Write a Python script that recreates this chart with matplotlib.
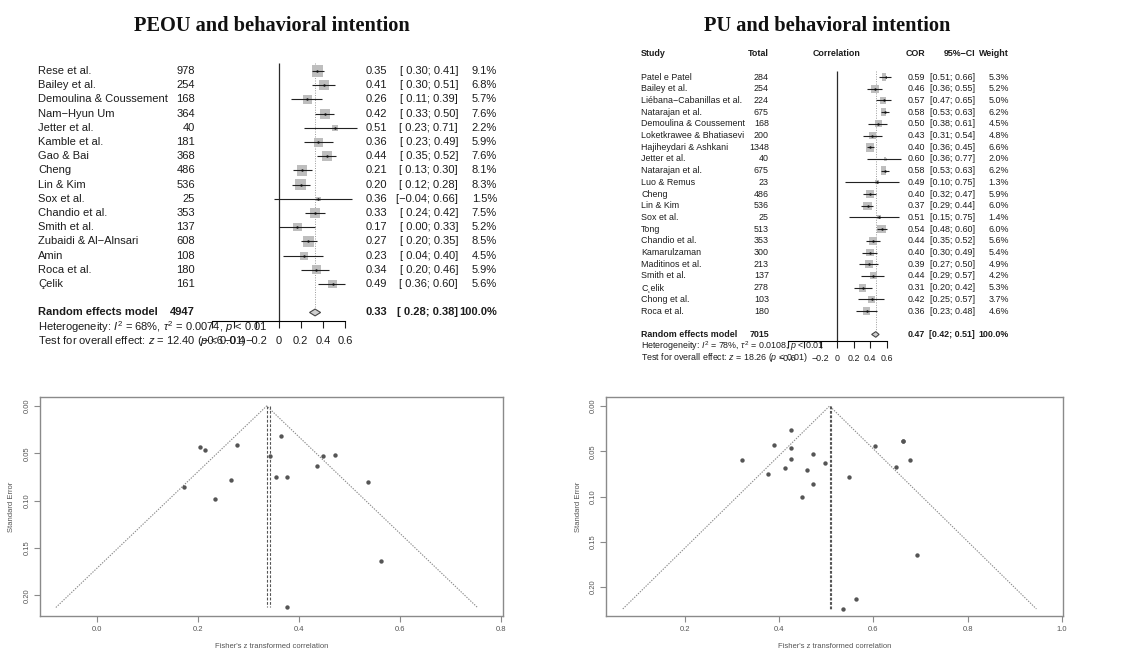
import numpy as np
import matplotlib.pyplot as plt
from matplotlib.transforms import blended_transform_factory

plt.rcParams['font.family'] = ['Liberation Sans', 'DejaVu Sans']
plt.rcParams['mathtext.fontset'] = 'custom'
plt.rcParams['mathtext.rm'] = 'Liberation Sans'
plt.rcParams['mathtext.it'] = 'Liberation Sans:italic'

W, H = 1128, 653

# ---- PEOU and behavioral intention (forest) ----
peou_study = ['Rese et al.', 'Bailey et al.', 'Demoulina & Coussement', 'Nam\u2212Hyun Um',
              'Jetter et al.', 'Kamble et al.', 'Gao & Bai', 'Cheng', 'Lin & Kim', 'Sox et al.',
              'Chandio et al.', 'Smith et al.', 'Zubaidi & Al\u2212Alnsari', 'Amin', 'Roca et al.',
              '\u00c7elik']
peou_total = [978, 254, 168, 364, 40, 181, 368, 486, 536, 25, 353, 137, 608, 108, 180, 161]
peou_cor = [0.35, 0.41, 0.26, 0.42, 0.51, 0.36, 0.44, 0.21, 0.20, 0.36, 0.33, 0.17, 0.27, 0.23, 0.34, 0.49]
peou_lo = [0.30, 0.30, 0.11, 0.33, 0.23, 0.23, 0.35, 0.13, 0.12, -0.04, 0.24, 0.00, 0.20, 0.04, 0.20, 0.36]
peou_hi = [0.41, 0.51, 0.39, 0.50, 0.71, 0.49, 0.52, 0.30, 0.28, 0.66, 0.42, 0.33, 0.35, 0.40, 0.46, 0.60]
peou_weight = [9.1, 6.8, 5.7, 7.6, 2.2, 5.9, 7.6, 8.1, 8.3, 1.5, 7.5, 5.2, 8.5, 4.5, 5.9, 5.6]
peou_random = [0.33, 0.28, 0.38]
peou_n = 4947
peou_het = r'Heterogeneity: $I^2$ = 68%, $\tau^2$ = 0.0074, $p$ < 0.01'
peou_test = r'Test for overall effect: $z$ = 12.40 ($p$ < 0.01)'

# ---- PU and behavioral intention (forest) ----
pu_study = ['Patel e Patel', 'Bailey et al.', 'Li\u00e9bana\u2212Cabanillas et al.', 'Natarajan et al.',
            'Demoulina & Coussement', 'Loketkrawee & Bhatiasevi', 'Hajiheydari & Ashkani',
            'Jetter et al.', 'Natarajan et al.', 'Luo & Remus', 'Cheng', 'Lin & Kim', 'Sox et al.',
            'Tong', 'Chandio et al.', 'Kamarulzaman', 'Maditinos et al.', 'Smith et al.',
            'C\u00b8elik', 'Chong et al.', 'Roca et al.']
pu_total = [284, 254, 224, 675, 168, 200, 1348, 40, 675, 23, 486, 536, 25, 513, 353, 300, 213, 137, 278, 103, 180]
pu_cor = [0.59, 0.46, 0.57, 0.58, 0.50, 0.43, 0.40, 0.60, 0.58, 0.49, 0.40, 0.37, 0.51, 0.54,
          0.44, 0.40, 0.39, 0.44, 0.31, 0.42, 0.36]
pu_lo = [0.51, 0.36, 0.47, 0.53, 0.38, 0.31, 0.36, 0.36, 0.53, 0.10, 0.32, 0.29, 0.15, 0.48,
         0.35, 0.30, 0.27, 0.29, 0.20, 0.25, 0.23]
pu_hi = [0.66, 0.55, 0.65, 0.63, 0.61, 0.54, 0.45, 0.77, 0.63, 0.75, 0.47, 0.44, 0.75, 0.60,
         0.52, 0.49, 0.50, 0.57, 0.42, 0.57, 0.48]
pu_weight = [5.3, 5.2, 5.0, 6.2, 4.5, 4.8, 6.6, 2.0, 6.2, 1.3, 5.9, 6.0, 1.4, 6.0, 5.6, 5.4,
             4.9, 4.2, 5.3, 3.7, 4.6]
pu_random = [0.47, 0.42, 0.51]
pu_n = 7015
pu_het = r'Heterogeneity: $I^2$ = 78%, $\tau^2$ = 0.0108, $p$ < 0.01'
pu_test = r'Test for overall effect: $z$ = 18.26 ($p$ < 0.01)'

forest_ticks = [-0.6, -0.4, -0.2, 0, 0.2, 0.4, 0.6]
peou_ticklabels = ['\u22120.6', '\u22120.4', '\u22120.2', '0', '0.2', '0.4', '0.6']
pu_ticklabels = ['\u22120.6', '', '\u22120.2', '0', '0.2', '0.4', '0.6']

# ---- funnel plots (Fisher's z, standard error) ----
peou_z = [0.365, 0.436, 0.266, 0.448, 0.563, 0.377, 0.472, 0.213, 0.203, 0.377, 0.343,
          0.172, 0.277, 0.234, 0.354, 0.536]
peou_se = [0.032, 0.063, 0.078, 0.053, 0.164, 0.075, 0.052, 0.046, 0.043, 0.213, 0.053,
           0.086, 0.041, 0.098, 0.075, 0.080]
peou_common_z, peou_random_z = 0.336, 0.342

pu_z = [0.678, 0.497, 0.648, 0.663, 0.549, 0.460, 0.424, 0.693, 0.663, 0.536, 0.424, 0.388,
        0.563, 0.604, 0.472, 0.424, 0.412, 0.472, 0.321, 0.448, 0.377]
pu_se = [0.060, 0.063, 0.067, 0.039, 0.078, 0.071, 0.027, 0.164, 0.039, 0.224, 0.046, 0.043,
         0.213, 0.044, 0.053, 0.058, 0.069, 0.086, 0.060, 0.100, 0.075]
pu_common_z, pu_random_z = 0.507, 0.510

peou_fticks_x = [0.0, 0.2, 0.4, 0.6, 0.8]
pu_fticks_x = [0.2, 0.4, 0.6, 0.8, 1.0]
fticks_y = [0.00, 0.05, 0.10, 0.15, 0.20]

fig = plt.figure(figsize=(W / 100, H / 100), dpi=100)
txt = '#1c1c1c'


def fmt_ci(lo, hi, pad):
    s = f'{lo:.2f}'.replace('-', '\u2212')
    if pad and lo >= 0:
        s = ' ' + s
    return f'[{s}; {hi:.2f}]'


def forest(box, ybot, cols, study, total, cor, lo, hi, weight, rnd, n_all, het, test,
           fs, sqk, ticklabels, pad_ci, tickpad, header=False):
    x0, x1, top, bottom = box
    ax = fig.add_axes([x0 / W, 1 - bottom / H, (x1 - x0) / W, (bottom - top) / H])
    ax.set_xlim(-0.6, 0.6)
    ax.set_ylim(ybot, 0)
    n = len(study)
    rows = np.arange(1, n + 1)
    rr = n + 2
    lo_a, hi_a = np.array(lo), np.array(hi)

    ax.vlines(0, 0.45, ybot, color='#2a2a2a', lw=0.9)
    ax.vlines(rnd[0], 0.45, rr - 0.3, color='#9a9a9a', lw=0.7, linestyles=(0, (1, 1.5)))
    ax.scatter(cor, rows, marker='s', s=sqk * np.array(weight), color='#bebebe', lw=0, zorder=2)
    ax.hlines(rows, lo_a, hi_a, color='#222222', lw=0.8, zorder=3, clip_on=False)
    ax.scatter(cor, rows, marker='o', s=3, color='#111111', lw=0, zorder=4)
    dh = 0.24
    ax.fill([rnd[1], rnd[0], rnd[2], rnd[0]], [rr, rr - dh, rr, rr + dh],
            facecolor='#cfcfcf', edgecolor='#444444', lw=0.8, zorder=3)

    for s in ['top', 'left', 'right']:
        ax.spines[s].set_visible(False)
    ax.spines['bottom'].set_linewidth(0.8)
    ax.set_yticks([])
    ax.set_xticks(forest_ticks)
    ax.set_xticklabels(ticklabels)
    ax.tick_params(axis='x', length=5, width=0.8, pad=tickpad, labelsize=fs, colors=txt)
    ax.patch.set_visible(False)

    tr = blended_transform_factory(fig.transFigure, ax.transData)
    cname, ctot, ccor, cci, cw = [c / W for c in cols]
    kw = dict(transform=tr, fontsize=fs, color=txt, va='center')
    for i in range(n):
        y = rows[i]
        ax.text(cname, y, study[i], ha='left', **kw)
        ax.text(ctot, y, str(total[i]), ha='right', **kw)
        ax.text(ccor, y, f'{cor[i]:.2f}', ha='right', **kw)
        ax.text(cci, y, fmt_ci(lo[i], hi[i], pad_ci), ha='right', **kw)
        ax.text(cw, y, f'{weight[i]:.1f}%', ha='right', **kw)
    ax.text(cname, rr, 'Random effects model', ha='left', weight='bold', **kw)
    ax.text(ctot, rr, str(n_all), ha='right', weight='bold', **kw)
    ax.text(ccor, rr, f'{rnd[0]:.2f}', ha='right', weight='bold', **kw)
    ax.text(cci, rr, fmt_ci(rnd[1], rnd[2], pad_ci), ha='right', weight='bold', **kw)
    ax.text(cw, rr, '100.0%', ha='right', weight='bold', **kw)
    ax.text(cname, rr + 1, het, ha='left', **kw)
    ax.text(cname, rr + 2, test, ha='left', **kw)
    if header:
        hk = dict(kw, weight='bold')
        ax.text(cname, -1, 'Study', ha='left', **hk)
        ax.text(ctot, -1, 'Total', ha='right', **hk)
        ax.text(0, -1, 'Correlation', ha='center', transform=ax.transData,
                fontsize=fs, color=txt, va='center', weight='bold')
        ax.text(ccor, -1, 'COR', ha='right', **hk)
        ax.text(cci, -1, '95%\u2212CI', ha='right', **hk)
        ax.text(cw, -1, 'Weight', ha='right', **hk)
    return ax


forest((212, 345, 56.8, 321), 18.6, (38, 195, 387, 458, 497),
       peou_study, peou_total, peou_cor, peou_lo, peou_hi, peou_weight, peou_random, peou_n,
       peou_het, peou_test, fs=8.0, sqk=7.1, ticklabels=peou_ticklabels, pad_ci=True, tickpad=6)

forest((787.5, 886.5, 65.3, 341), 23.56, (641, 769, 925, 975, 1009),
       pu_study, pu_total, pu_cor, pu_lo, pu_hi, pu_weight, pu_random, pu_n,
       pu_het, pu_test, fs=6.4, sqk=6.0, ticklabels=pu_ticklabels, pad_ci=False, tickpad=4,
       header=True)

fig.text(272 / W, 1 - 31 / H, 'PEOU and behavioral intention', family='Liberation Serif',
         weight='bold', fontsize=14.7, ha='center', va='baseline', color='#111111')
fig.text(827 / W, 1 - 31 / H, 'PU and behavioral intention', family='Liberation Serif',
         weight='bold', fontsize=14.7, ha='center', va='baseline', color='#111111')


def funnel(box, xlim, ylim, z, se, common, random, xticks, xfmt):
    x0, x1, top, bottom = box
    ax = fig.add_axes([x0 / W, 1 - bottom / H, (x1 - x0) / W, (bottom - top) / H])
    ax.set_xlim(*xlim)
    ax.set_ylim(*ylim)
    m = max(se)
    ax.plot([common - 1.96 * m, common, common + 1.96 * m], [m, 0, m],
            color='#8a8a8a', lw=0.8, dashes=(1.2, 1.2))
    ax.vlines([common, random], 0, m, color='#555555', lw=0.8, linestyles=(0, (2.5, 1.5)))
    ax.scatter(z, se, s=10, color='#555555', lw=0, zorder=3)
    for s in ax.spines.values():
        s.set_color('#8a8a8a')
        s.set_linewidth(1.0)
    ax.set_xticks(xticks)
    ax.set_xticklabels([f'{v:{xfmt}}' for v in xticks])
    ax.set_yticks(fticks_y)
    ax.set_yticklabels([f'{v:.2f}' for v in fticks_y], rotation=90, va='center')
    ax.tick_params(length=4, width=0.8, color='#8a8a8a', labelsize=5.5, labelcolor='#555555',
                   pad=3)
    cx = (x0 + x1) / 2
    fig.text(cx / W, 1 - 647 / H, "Fisher's z transformed correlation", fontsize=5.5,
             color='#555555', ha='center', va='center')
    fig.text((x0 - 28) / W, 1 - (top + bottom) / 2 / H, 'Standard Error', fontsize=5.5,
             color='#555555', ha='center', va='center', rotation=90)
    return ax


funnel((40, 503, 397, 616), (-0.1129, 0.804), (0.222, -0.0095),
       peou_z, peou_se, peou_common_z, peou_random_z, peou_fticks_x, '.1f')
funnel((606, 1063, 397, 616), (0.0323, 1.0025), (0.2318, -0.0099),
       pu_z, pu_se, pu_common_z, pu_random_z, pu_fticks_x, '.1f')

fig.savefig('out.png', dpi=100)
